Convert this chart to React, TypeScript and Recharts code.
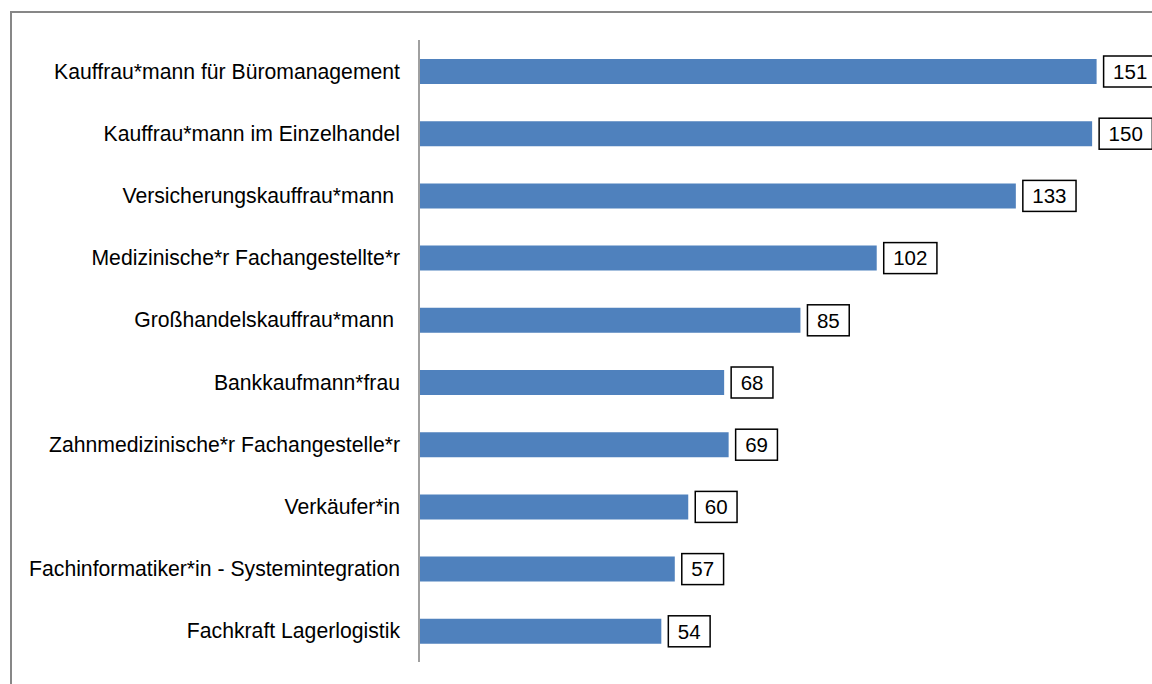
import React from "react";
import { BarChart, Bar, XAxis, YAxis, LabelList } from "recharts";

const categories = [
  "Kauffrau*mann für Büromanagement",
  "Kauffrau*mann im Einzelhandel",
  "Versicherungskauffrau*mann ",
  "Medizinische*r Fachangestellte*r",
  "Großhandelskauffrau*mann ",
  "Bankkaufmann*frau",
  "Zahnmedizinische*r Fachangestelle*r",
  "Verkäufer*in",
  "Fachinformatiker*in - Systemintegration",
  "Fachkraft Lagerlogistik",
];
const values = [151, 150, 133, 102, 85, 68, 69, 60, 57, 54];
const xDomain = [0, 160];

const data = categories.map((name, i) => ({ name, value: values[i] }));

const FONT = "'Liberation Sans', Arial, sans-serif";

const CategoryTick = (props: any) => {
  const { x, y, payload } = props;
  return (
    <text
      x={x}
      y={y}
      dy="0.355em"
      textAnchor="end"
      fontSize={21.2}
      fontFamily={FONT}
      fill="#000"
      xmlSpace="preserve"
      style={{ whiteSpace: "pre" }}
    >
      {payload.value}
    </text>
  );
};

const BoxLabel = (props: any) => {
  const { x, y, width, height, value } = props;
  const text = String(value);
  const textW = text.length * 0.556 * 20.5;
  const boxW = textW + 19;
  const boxH = 31;
  const bx = x + width + 7;
  const cy = y + height / 2;
  return (
    <g>
      <rect x={bx} y={cy - boxH / 2} width={boxW} height={boxH} fill="#fff" stroke="#000" strokeWidth={1.5} />
      <text
        x={bx + boxW / 2}
        y={cy}
        dy="0.355em"
        textAnchor="middle"
        fontSize={20.5}
        fontFamily={FONT}
        fill="#000"
      >
        {text}
      </text>
    </g>
  );
};

export default function App() {
  return (
    <div
      style={{
        position: "fixed",
        left: 0,
        top: 0,
        width: 1152,
        height: 684,
        overflow: "hidden",
        background: "#fff",
      }}
    >
      <style>{`html,body{overflow:hidden;}`}</style>
      <div
        style={{
          position: "absolute",
          left: 10,
          top: 11,
          width: 1170,
          height: 700,
          borderLeft: "2px solid #878787",
          borderTop: "2px solid #878787",
          boxSizing: "border-box",
        }}
      />
      <div style={{ position: "absolute", left: 8, top: 8 }}>
        <BarChart
          width={1144}
          height={668}
          data={data}
          layout="vertical"
          margin={{ top: 32, right: 15, bottom: 14, left: 0 }}
          barCategoryGap={0}
        >
          <XAxis type="number" domain={xDomain} hide />
          <YAxis
            type="category"
            dataKey="name"
            width={411}
            axisLine={{ stroke: "#a0a0a0", strokeWidth: 2 }}
            tickLine={false}
            tickMargin={13}
            tick={<CategoryTick />}
            interval={0}
          />
          <Bar dataKey="value" fill="#4F81BD" barSize={25} isAnimationActive={false}>
            <LabelList dataKey="value" content={<BoxLabel />} />
          </Bar>
        </BarChart>
      </div>
    </div>
  );
}
